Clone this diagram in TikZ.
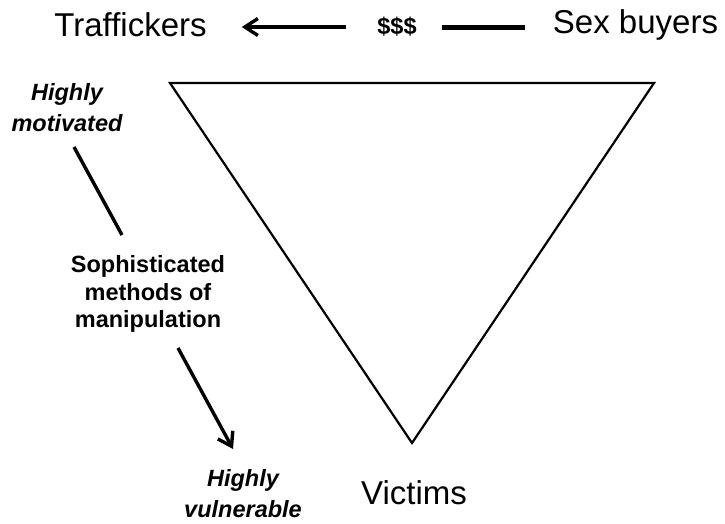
\documentclass[tikz,border=0pt]{standalone}
\usepackage{fontspec}
\setmainfont{Liberation Sans}
\usetikzlibrary{arrows.meta}

\begin{document}
\begin{tikzpicture}[x=1pt, y=-1pt,
        big/.style={inner sep=0pt, font=\fontsize{33}{38}\selectfont},
        note/.style={inner sep=0pt, align=center, font=\fontsize{23.5}{31}\selectfont\bfseries\itshape},
        plain/.style={inner sep=0pt, align=center, font=\fontsize{23.5}{27.5}\selectfont\bfseries},
        link/.style={line width=3.4pt},
        flowtip/.style={-{Straight Barb[length=13pt, width=17pt, line width=3.4pt]}}]
        \useasboundingbox (0,0) rectangle (725,523);

        \node[big] (traffickers) at (130.5,25) {Traffickers};
        \node[plain] (money) at (397,27) {\$\$\$};
        \node[big] (buyers) at (635.5,25) {Sex buyers};
        \node[big] (victims) at (414,493) {Victims};
        \node[note] (motivated) at (67,108) {Highly\\motivated};
        \node[plain] (methods) at (148,294) {Sophisticated\\methods of\\manipulation};
        \node[note] (vulnerable) at (243,494) {Highly\\vulnerable};

        \coordinate (mtop) at (74,147);
        \coordinate (mbot) at (122,235);
        \coordinate (vtop) at (178,348);
        \coordinate (vbot) at (233,449);

        % the triangle
        \draw[line width=2.2pt, line join=miter] (170,83) -- (654,83) -- (412,443) -- cycle;

        \draw[flowtip, line width=3.2pt, shorten <=31pt, shorten >=35pt] (money.west) -- (traffickers.east |- money.west);
        \draw[line width=5pt, shorten <=25pt, shorten >=28pt] (money.east) -- (buyers.west |- money.east);
        \draw[link] (mtop) -- (mbot);
        \draw[link, flowtip] (vtop) -- (vbot);
    \end{tikzpicture}
\end{document}
